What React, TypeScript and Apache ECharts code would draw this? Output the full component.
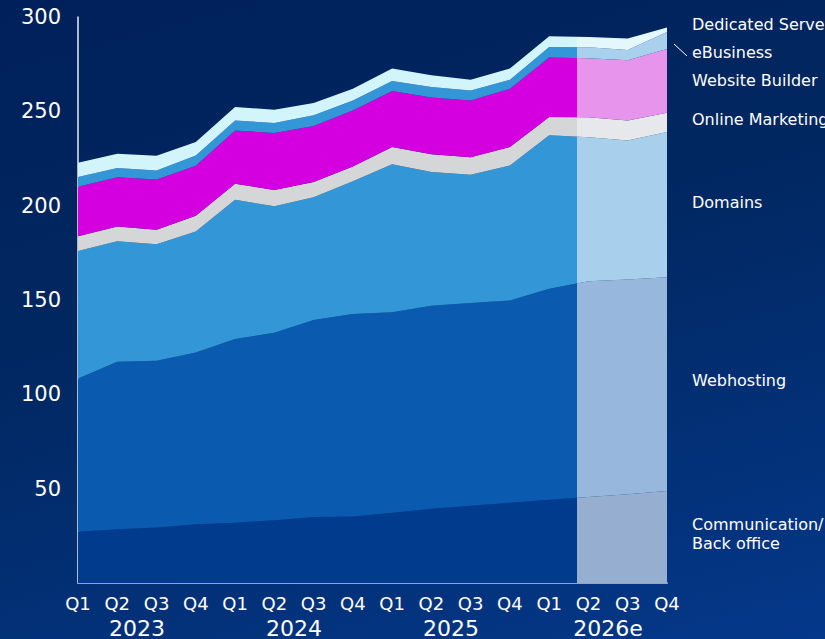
import React, { useEffect, useRef } from "react";
import * as echarts from "echarts";

const quarters = [
  "2023 Q1", "2023 Q2", "2023 Q3", "2023 Q4",
  "2024 Q1", "2024 Q2", "2024 Q3", "2024 Q4",
  "2025 Q1", "2025 Q2", "2025 Q3", "2025 Q4",
  "2026e Q1", "2026e Q2", "2026e Q3", "2026e Q4",
];
const years = ["2023", "2024", "2025", "2026e"];
const yearLabelPositions = [1.5, 5.5, 9.5, 13.5];
const forecastStart = 12.7;

const communication = [27.2, 28.5, 29.4, 31.1, 32.0, 33.3, 35.0, 35.2, 37.3, 39.4, 40.9, 42.5, 44.1, 45.6, 47.1, 48.8];
const webhosting = [81.2, 88.8, 88.4, 91.1, 97.3, 99.4, 104.4, 107.4, 106.2, 107.5, 107.5, 107.2, 111.8, 114.3, 113.7, 113.2];
const domains = [67.6, 63.9, 61.8, 64.1, 73.8, 67.0, 65.1, 70.4, 78.4, 70.9, 68.0, 71.6, 81.4, 76.3, 73.8, 77.0];
const onlineMarketing = [7.8, 7.8, 7.6, 8.3, 8.5, 8.6, 8.0, 7.8, 9.2, 9.4, 9.3, 9.8, 9.7, 10.6, 10.6, 10.2];
const websiteBuilder = [26.2, 26.1, 26.7, 26.6, 28.3, 30.2, 29.7, 29.7, 29.7, 30.1, 30.1, 30.9, 31.5, 31.4, 31.9, 33.8];
const eBusiness = [5.2, 4.8, 4.8, 5.4, 5.3, 5.3, 5.7, 5.3, 5.3, 5.6, 5.3, 4.8, 5.6, 5.8, 5.4, 9.0];
const dedicatedServer = [7.6, 7.6, 7.8, 7.1, 7.1, 7.1, 6.5, 6.2, 6.6, 6.2, 5.7, 5.9, 5.7, 5.4, 6.1, 2.5];

const seriesDefs = [
  { name: "Communication/Back office", data: communication, color: "#003B8E", light: "#96AED0" },
  { name: "Webhosting", data: webhosting, color: "#0A5AB0", light: "#97B8DC" },
  { name: "Domains", data: domains, color: "#3396D6", light: "#A8D0EC" },
  { name: "Online Marketing", data: onlineMarketing, color: "#D5D6D8", light: "#E6E8EB" },
  { name: "Website Builder", data: websiteBuilder, color: "#D500E0", light: "#E694EC" },
  { name: "eBusiness", data: eBusiness, color: "#3396D6", light: "#A9D0EC" },
  { name: "Dedicated Server", data: dedicatedServer, color: "#D2F5FC", light: "#E4F7FB" },
];

const rightLabels = [
  { text: "Dedicated Server", y: 25 },
  { text: "eBusiness", y: 53 },
  { text: "Website Builder", y: 81 },
  { text: "Online Marketing", y: 120 },
  { text: "Domains", y: 203 },
  { text: "Webhosting", y: 381 },
  { text: "Communication/", y: 525 },
  { text: "Back office", y: 544 },
];

const FONT = "DejaVu Sans";

export default function App() {
  const ref = useRef<HTMLDivElement>(null);

  useEffect(() => {
    if (!ref.current) return;
    document.body.style.margin = "0";
    const chart = echarts.init(ref.current, null, { renderer: "svg" });
    const split = forecastStart / (quarters.length - 1);

    const series: any[] = seriesDefs.map((s) => ({
      name: s.name,
      type: "line",
      stack: "total",
      data: s.data,
      showSymbol: false,
      symbol: "none",
      lineStyle: { width: 0 },
      areaStyle: {
        opacity: 1,
        color: {
          type: "linear",
          x: 0,
          y: 0,
          x2: 1,
          y2: 0,
          colorStops: [
            { offset: 0, color: s.color },
            { offset: split, color: s.color },
            { offset: split, color: s.light },
            { offset: 1, color: s.light },
          ],
        },
      },
      emphasis: { disabled: true },
    }));

    chart.setOption({
      animation: false,
      backgroundColor: "transparent",
      textStyle: { fontFamily: FONT },
      grid: { left: 78, right: 158, top: 17, bottom: 56 },
      xAxis: [
        {
          type: "category",
          data: quarters,
          boundaryGap: false,
          axisLine: { show: true, lineStyle: { color: "#9AA3B5", width: 2 } },
          axisTick: { show: false },
          splitLine: { show: false },
          axisLabel: {
            color: "#FFFFFF",
            fontSize: 18,
            fontFamily: FONT,
            margin: 11,
            interval: 0,
            formatter: (v: string) => v.split(" ")[1],
          },
        },
        {
          type: "value",
          min: 0,
          max: quarters.length - 1,
          position: "bottom",
          axisLine: { show: false },
          axisTick: { show: false },
          splitLine: { show: false },
          axisLabel: {
            color: "#FFFFFF",
            fontSize: 22,
            fontFamily: FONT,
            margin: 34,
            customValues: yearLabelPositions,
            formatter: (v: number) => {
              const i = yearLabelPositions.indexOf(v);
              return i >= 0 ? years[i] : "";
            },
          },
        },
      ],
      yAxis: {
        type: "value",
        min: 0,
        max: 300,
        interval: 50,
        axisLine: { show: true, lineStyle: { color: "#E8ECF2", width: 1.5 } },
        axisTick: { show: false },
        splitLine: { show: false },
        axisLabel: {
          color: "#FFFFFF",
          fontSize: 21,
          fontFamily: FONT,
          margin: 17,
          formatter: (v: number) => (v === 0 ? "" : String(v)),
        },
      },
      series,
      graphic: [
        ...rightLabels.map((l) => ({
          type: "text",
          left: 692,
          top: l.y - 9,
          silent: true,
          style: { text: l.text, fill: "#FFFFFF", fontSize: 16, fontFamily: FONT },
        })),
        {
          type: "line",
          silent: true,
          shape: { x1: 674, y1: 44, x2: 687, y2: 56 },
          style: { stroke: "#FFFFFF", lineWidth: 1 },
        },
      ],
    });

    return () => chart.dispose();
  }, []);

  return (
    <div
      ref={ref}
      style={{
        position: "fixed",
        left: 0,
        top: 0,
        width: 825,
        height: 639,
        background: "linear-gradient(165deg, #00205A 0%, #012862 45%, #04388A 100%)",
      }}
    />
  );
}
